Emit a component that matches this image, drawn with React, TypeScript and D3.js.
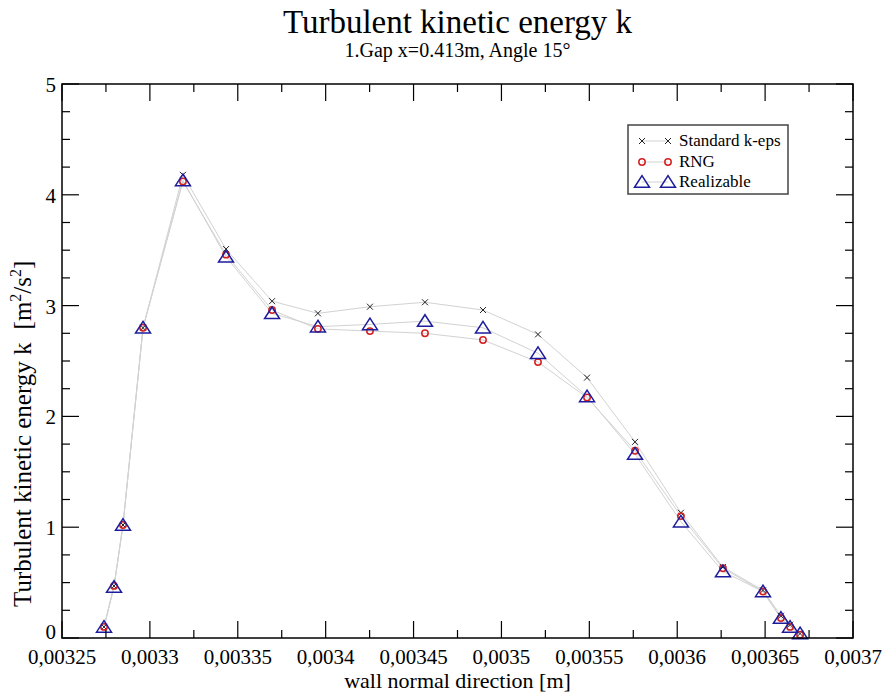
import React from "react";
import * as d3 from "d3";

const xValues = [0.0032739, 0.0032796, 0.0032847, 0.0032961, 0.0033188, 0.0033433, 0.0033695, 0.0033956, 0.0034252, 0.0034565, 0.0034895, 0.0035208, 0.0035487, 0.003576, 0.0036021, 0.003626, 0.0036488, 0.003659, 0.0036642, 0.0036699];
const standardKEps = [0.1, 0.47, 1.02, 2.8, 4.18, 3.51, 3.04, 2.93, 2.99, 3.03, 2.96, 2.74, 2.35, 1.77, 1.13, 0.64, 0.43, 0.2, 0.12, 0.04];
const rng = [0.1, 0.47, 1.02, 2.8, 4.12, 3.46, 2.96, 2.79, 2.77, 2.75, 2.69, 2.49, 2.17, 1.69, 1.1, 0.63, 0.42, 0.18, 0.1, 0.03];
const realizable = [0.1, 0.46, 1.02, 2.8, 4.13, 3.44, 2.93, 2.81, 2.83, 2.86, 2.8, 2.57, 2.18, 1.66, 1.05, 0.6, 0.42, 0.18, 0.1, 0.04];
const seriesNames = ["Standard k-eps", "RNG", "Realizable"];
const xTickValues = [0.00325, 0.0033, 0.00335, 0.0034, 0.00345, 0.0035, 0.00355, 0.0036, 0.00365, 0.0037];
const xTickLabels = ["0,00325", "0,0033", "0,00335", "0,0034", "0,00345", "0,0035", "0,00355", "0,0036", "0,00365", "0,0037"];
const yTickValues = [0, 1, 2, 3, 4, 5];

const W = 888, H = 695;
const L = 62, R = 853, T = 84, B = 638;
const FONT = "'Liberation Serif', 'DejaVu Serif', serif";

export default function App() {
  const x = d3.scaleLinear().domain([0.00325, 0.0037]).range([L, R]);
  const y = d3.scaleLinear().domain([0, 5]).range([B, T]);
  const line = d3.line<number>().x((_, i) => x(xValues[i])).y((d) => y(d));

  const xMinor = d3.range(0, 9).map((i) => 0.00325 + 0.00005 * i + 0.000025);
  const yMinor = d3.range(0, 20).map((i) => i * 0.25).filter((v) => v % 1 !== 0 && v > 0);

  const tri = (s: number) => `M0,${-s * 0.85}L${s},${s * 0.7}L${-s},${s * 0.7}Z`;
  const cross = (s: number) => `M${-s},${-s}L${s},${s}M${-s},${s}L${s},${-s}`;

  const markerX = (cx: number, cy: number, k: string) => (
    <path key={k} d={cross(3)} transform={`translate(${cx},${cy})`} stroke="#222" strokeWidth={1} fill="none" />
  );
  const markerO = (cx: number, cy: number, k: string) => (
    <circle key={k} cx={cx} cy={cy} r={3.2} stroke="#d42020" strokeWidth={1.5} fill="none" />
  );
  const markerT = (cx: number, cy: number, k: string) => (
    <path key={k} d={tri(7.5)} transform={`translate(${cx},${cy})`} stroke="#1c1c9c" strokeWidth={1.5} fill="none" />
  );

  const series = [
    { data: standardKEps, m: markerX },
    { data: rng, m: markerO },
    { data: realizable, m: markerT },
  ];

  const legX = 628, legY = 125, legW = 160, legH = 69;
  const rowY = [141, 162, 182];

  return (
    <svg width={W} height={H} style={{ display: "block", position: "absolute", left: 0, top: 0 }} fontFamily={FONT}>
      <rect width={W} height={H} fill="#fff" />
      {series.map((s, i) => (
        <path key={"l" + i} d={line(s.data) || ""} fill="none" stroke="#d2d2d2" strokeWidth={1} />
      ))}
      {series.map((s, i) => s.data.map((v, j) => s.m(x(xValues[j]), y(v), `m${i}-${j}`)))}
      <rect x={L} y={T} width={R - L} height={B - T} fill="none" stroke="#000" strokeWidth={1.5} />
      {xTickValues.map((v, i) => (
        <g key={"xt" + i}>
          <line x1={x(v)} x2={x(v)} y1={B} y2={B - 17} stroke="#000" strokeWidth={1.2} />
          <line x1={x(v)} x2={x(v)} y1={T} y2={T + 17} stroke="#000" strokeWidth={1.2} />
          <text x={x(v)} y={664} fontSize={21} textAnchor="middle">{xTickLabels[i]}</text>
        </g>
      ))}
      {xMinor.map((v, i) => (
        <g key={"xm" + i}>
          <line x1={x(v)} x2={x(v)} y1={B} y2={B - 8} stroke="#000" strokeWidth={1.2} />
          <line x1={x(v)} x2={x(v)} y1={T} y2={T + 8} stroke="#000" strokeWidth={1.2} />
        </g>
      ))}
      {yTickValues.map((v, i) => (
        <g key={"yt" + i}>
          <line x1={L} x2={L + 17} y1={y(v)} y2={y(v)} stroke="#000" strokeWidth={1.2} />
          <line x1={R} x2={R - 17} y1={y(v)} y2={y(v)} stroke="#000" strokeWidth={1.2} />
          <text x={L - 6} y={y(v) + (v === 0 ? 1 : 8)} fontSize={21} textAnchor="end">{v}</text>
        </g>
      ))}
      {yMinor.map((v, i) => (
        <g key={"ym" + i}>
          <line x1={L} x2={L + 8} y1={y(v)} y2={y(v)} stroke="#000" strokeWidth={1.2} />
          <line x1={R} x2={R - 8} y1={y(v)} y2={y(v)} stroke="#000" strokeWidth={1.2} />
        </g>
      ))}
      <text x={(L + R) / 2} y={33} fontSize={33} textAnchor="middle">Turbulent kinetic energy k</text>
      <text x={(L + R) / 2} y={57} fontSize={20} textAnchor="middle">1.Gap x=0.413m, Angle 15°</text>
      <text x={(L + R) / 2} y={688} fontSize={22} textAnchor="middle">wall normal direction [m]</text>
      <text transform={`translate(31,607) rotate(-90)`} fontSize={25} textAnchor="start">
        Turbulent kinetic energy k<tspan dx={13}>[m</tspan><tspan dy={-10} fontSize={16}>2</tspan><tspan dy={10}>/s</tspan><tspan dy={-10} fontSize={16}>2</tspan><tspan dy={10}>]</tspan>
      </text>
      <rect x={legX} y={legY} width={legW} height={legH} fill="#fff" stroke="#444" strokeWidth={1.5} />
      {series.map((s, i) => (
        <g key={"lg" + i}>
          <line x1={legX + 14} x2={legX + 40} y1={rowY[i]} y2={rowY[i]} stroke="#d2d2d2" strokeWidth={1} />
          {s.m(legX + 14, rowY[i], "a" + i)}
          {s.m(legX + 40, rowY[i], "b" + i)}
          <text x={legX + 51} y={rowY[i] + 5} fontSize={17}>{seriesNames[i]}</text>
        </g>
      ))}
    </svg>
  );
}
